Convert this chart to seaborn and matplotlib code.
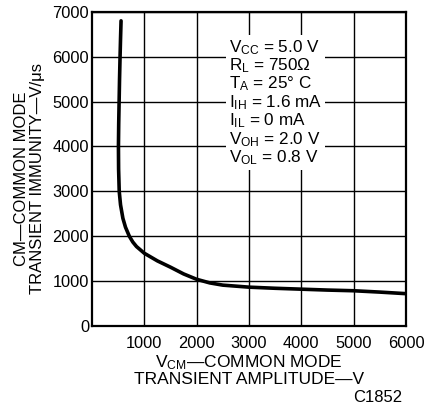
import numpy as np
import pandas as pd
import seaborn as sns
import matplotlib.pyplot as plt

# curve (V, V/us)
amplitude = [555, 545, 536, 526, 518, 510, 505, 508, 520, 545, 590, 640, 713, 780, 850,
             1000, 1250, 1500, 1750, 2000, 2250, 2500, 3000, 3500, 4000, 4500, 5000, 5500, 6000]
immunity = [6800, 6400, 6000, 5500, 5000, 4500, 4000, 3500, 3000, 2700, 2400, 2200, 2000, 1870, 1770,
            1620, 1450, 1310, 1160, 1040, 960, 910, 865, 840, 820, 800, 785, 755, 720]

x_ticks = [1000, 2000, 3000, 4000, 5000, 6000]
y_ticks = [0, 1000, 2000, 3000, 4000, 5000, 6000, 7000]

conditions = [
    r"$\mathrm{V_{CC}}$ = 5.0 V",
    r"$\mathrm{R_{L}}$ = 750$\Omega$",
    r"$\mathrm{T_{A}}$ = 25° C",
    r"$\mathrm{I_{IH}}$ = 1.6 mA",
    r"$\mathrm{I_{IL}}$ = 0 mA",
    r"$\mathrm{V_{OH}}$ = 2.0 V",
    r"$\mathrm{V_{OL}}$ = 0.8 V",
]

sns.set_theme(style="white")
plt.rcParams["font.family"] = ["Liberation Sans", "DejaVu Sans"]
plt.rcParams["mathtext.fontset"] = "custom"
plt.rcParams["mathtext.rm"] = "Liberation Sans"
plt.rcParams["mathtext.it"] = "Liberation Sans:italic"

df = pd.DataFrame({"amp": amplitude, "cmti": immunity})

fig = plt.figure(figsize=(4.26, 4.09), dpi=100)
ax = fig.add_axes([0.216, 0.203, 0.737, 0.768])

sns.lineplot(data=df, x="amp", y="cmti", sort=False, estimator=None,
             color="black", linewidth=2.6, ax=ax, zorder=4)

ax.set_xlim(0, 6000)
ax.set_ylim(0, 7000)
ax.set_xticks(x_ticks)
ax.set_yticks(y_ticks)
ax.grid(True, color="black", linewidth=1.0)
ax.set_axisbelow(True)
for s in ax.spines.values():
    s.set_color("black")
    s.set_linewidth(1.6)
ax.tick_params(axis="both", length=0, labelsize=11.8, colors="black")
ax.tick_params(axis="x", pad=7)
ax.tick_params(axis="y", pad=2)

ax.set_xlabel("V$_{\\mathrm{CM}}$—COMMON MODE\nTRANSIENT AMPLITUDE—V",
              fontsize=12.5, color="black", linespacing=0.95, labelpad=2)
ax.set_ylabel("CM—COMMON MODE\nTRANSIENT IMMUNITY—V/μs",
              fontsize=12, color="black", linespacing=1.08, labelpad=2)
ax.yaxis.set_label_coords(-0.15, 0.47)

ax.text(2620, 6420, "\n".join(conditions), fontsize=12.3, color="black",
        va="top", ha="left", linespacing=0.98, zorder=5,
        bbox=dict(facecolor="white", edgecolor="none", pad=2))

fig.text(0.945, 0.027, "C1852", fontsize=12, ha="right", va="center", color="black")

fig.savefig("out.png", dpi=100)
